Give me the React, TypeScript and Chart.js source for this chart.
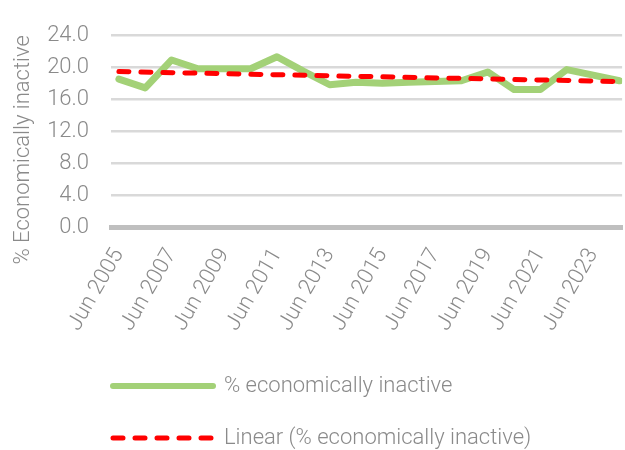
import React, { useEffect, useRef } from 'react';
import { Chart, registerables } from 'chart.js';

Chart.register(...registerables);

const categories = [
  'Jun 2005', 'Jun 2006', 'Jun 2007', 'Jun 2008', 'Jun 2009', 'Jun 2010', 'Jun 2011',
  'Jun 2012', 'Jun 2013', 'Jun 2014', 'Jun 2015', 'Jun 2016', 'Jun 2017', 'Jun 2018',
  'Jun 2019', 'Jun 2020', 'Jun 2021', 'Jun 2022', 'Jun 2023', 'Jun 2024',
];
const inactive = [
  18.5, 17.4, 20.9, 19.8, 19.8, 19.8, 21.3, 19.5, 17.8, 18.1,
  18.0, 18.1, 18.2, 18.3, 19.4, 17.2, 17.2, 19.7, 19.0, 18.3,
];
const trendStart = 19.45;
const trendEnd = 18.2;
const yTicks = [0, 4, 8, 12, 16, 20, 24];

const TEXT = '#8a8a8a';
const FONT = { family: 'Roboto, "Noto Sans", sans-serif', size: 22, weight: 300 as any };

const shiftLegend = {
  id: 'shiftLegend',
  afterLayout(chart: any) {
    const l = chart.legend;
    if (l) {
      l.left -= 28;
      l.right -= 28;
    }
  },
};

export default function App() {
  const ref = useRef<HTMLCanvasElement | null>(null);
  useEffect(() => {
    if (!ref.current) return;
    const chart = new Chart(ref.current, {
      type: 'line',
      data: {
        datasets: [
          {
            label: '% economically inactive',
            data: inactive.map((v, i) => ({ x: i, y: v })),
            borderColor: '#a3d177',
            backgroundColor: '#a3d177',
            borderWidth: 7,
            borderCapStyle: 'round',
            borderJoinStyle: 'round',
            pointRadius: 0,
            tension: 0,
            order: 2,
          },
          {
            label: 'Linear (% economically inactive)',
            data: [
              { x: 0, y: trendStart },
              { x: inactive.length - 1, y: trendEnd },
            ],
            borderColor: '#ff0000',
            backgroundColor: '#ff0000',
            borderWidth: 5,
            borderDash: [10, 12],
            borderCapStyle: 'round',
            pointRadius: 0,
            order: 1,
          },
        ],
      },
      options: {
        animation: false,
        responsive: true,
        maintainAspectRatio: false,
        layout: { padding: { left: 10, right: 0, top: 23, bottom: 11 } },
        plugins: {
          tooltip: { enabled: false },
          legend: {
            position: 'bottom',
            align: 'start',
            fullSize: false,
            labels: {
              usePointStyle: true,
              pointStyle: 'line',
              pointStyleWidth: 100,
              padding: 30,
              color: TEXT,
              font: FONT,
              sort: (a: any, b: any) => a.datasetIndex - b.datasetIndex,
              generateLabels: (c: any) =>
                Chart.defaults.plugins.legend.labels.generateLabels(c).map((it: any) => {
                  const ds: any = c.data.datasets[it.datasetIndex];
                  return {
                    ...it,
                    lineWidth: it.datasetIndex === 0 ? 6 : ds.borderWidth,
                    lineDash: ds.borderDash || [],
                    lineCap: 'round',
                    strokeStyle: ds.borderColor,
                  };
                }),
            },
          },
        },
        scales: {
          x: {
            type: 'linear',
            min: -0.3,
            max: 19.1,
            grid: { display: false },
            border: { display: true, color: '#bfbfbf', width: 5 },
            afterFit: (s: any) => {
              s.height = 118;
            },
            ticks: {
              stepSize: 2,
              includeBounds: false,
              autoSkip: false,
              minRotation: 60,
              maxRotation: 60,
              padding: 9,
              color: TEXT,
              font: FONT,
              callback: (v: any) => categories[v as number] ?? '',
            },
          },
          y: {
            min: 0,
            max: 24,
            afterBuildTicks: (s: any) => {
              s.ticks = yTicks.map((v) => ({ value: v }));
            },
            afterFit: (s: any) => {
              s.width = 101;
            },
            grid: { color: '#d9d9d9', lineWidth: 2.5, drawTicks: false },
            border: { display: false },
            ticks: {
              padding: 22,
              color: TEXT,
              font: FONT,
              callback: (v: any) => Number(v).toFixed(1),
            },
            title: {
              display: true,
              align: 'end',
              text: '% Economically inactive',
              color: TEXT,
              font: FONT,
              padding: { top: 0, bottom: 15 },
            },
          },
        },
      },
      plugins: [shiftLegend],
    } as any);
    return () => chart.destroy();
  }, []);
  return (
    <div style={{ position: 'absolute', left: 0, top: 0, width: 625, height: 450, overflow: 'hidden' }}>
      <div style={{ position: 'relative', width: 625, height: 470 }}>
        <canvas ref={ref} />
      </div>
    </div>
  );
}
